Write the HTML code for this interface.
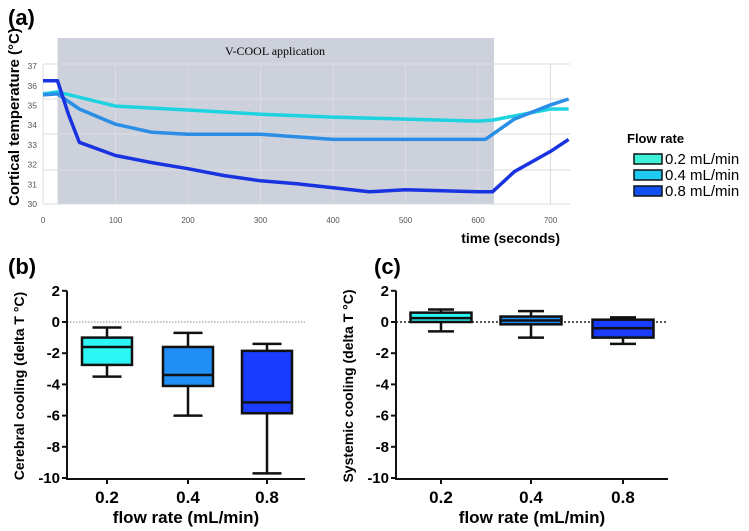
<!DOCTYPE html>
<html><head><meta charset="utf-8"><style>
html,body{margin:0;padding:0;background:#fff;width:749px;height:531px;overflow:hidden}
svg{display:block;font-family:"Liberation Sans",sans-serif}
</style></head><body>
<svg id="fig" width="749" height="531" viewBox="0 0 749 531" xmlns="http://www.w3.org/2000/svg">
<text x="8" y="25" font-size="22" font-weight="bold">(a)</text>
<text x="8" y="274" font-size="22" font-weight="bold">(b)</text>
<text x="374" y="274" font-size="22" font-weight="bold">(c)</text>
<g id="pa"></g>
<g id="pb"></g>
<g id="pc"></g>
</svg>
<script>
// ---- Panel (a) data ----
const timesA = [0,20,100,200,300,400,500,600,620,700,725];
const temp02 = [35.59,35.69,34.97,34.77,34.56,34.41,34.31,34.21,34.26,34.82,34.82];
const timesB = [0,20,50,100,150,200,300,400,500,610,650,700,725];
const temp04 = [35.54,35.59,34.82,34.05,33.64,33.54,33.54,33.28,33.28,33.28,34.31,35.03,35.33];
const timesC = [0,20,35,50,100,150,200,250,300,350,400,450,500,600,620,650,700,725];
const temp08 = [36.26,36.26,34.56,33.13,32.46,32.10,31.79,31.44,31.18,31.03,30.82,30.62,30.72,30.62,30.62,31.64,32.67,33.28];
const xTicksA = [0,100,200,300,400,500,600,700];
const yTicksA = [30,31,32,33,34,35,36,37];
const coolStart = 20, coolEnd = 622;
const legendLabels = ["0.2 mL/min","0.4 mL/min","0.8 mL/min"];
// ---- Panel (b)/(c) data ----
const boxCats = ["0.2","0.4","0.8"];
const cerebralMax = [-0.35,-0.7,-1.4];
const cerebralQ3 = [-1.0,-1.6,-1.85];
const cerebralMed = [-1.6,-3.4,-5.15];
const cerebralQ1 = [-2.75,-4.1,-5.85];
const cerebralMin = [-3.5,-6.0,-9.7];
const systemicMax = [0.8,0.7,0.3];
const systemicQ3 = [0.6,0.35,0.15];
const systemicMed = [0.25,0.1,-0.4];
const systemicQ1 = [0.0,-0.15,-1.0];
const systemicMin = [-0.6,-1.0,-1.4];
const yTicksBox = [2,0,-2,-4,-6,-8,-10];

const NS="http://www.w3.org/2000/svg";
function mk(p,tag,a,txt){const e=document.createElementNS(NS,tag);for(const k in a)e.setAttribute(k,a[k]);if(txt!==undefined)e.textContent=txt;p.appendChild(e);return e;}

// Panel a
const pa=document.getElementById('pa');
const xA=t=>43+t*0.725, yA=T=>204-(T-30)*19.7;
let e=mk(pa,'rect',{x:xA(coolStart),y:38,width:xA(coolEnd)-xA(coolStart),height:166,fill:'#cdd1dc'});

[64,99,134,170,204].forEach(gy=>{const g=mk(pa,'line',{x1:43,x2:570,y1:gy,y2:gy,stroke:'#dcdde2','stroke-width':1});
});
xTicksA.forEach(t=>{const g=mk(pa,'line',{x1:xA(t),x2:xA(t),y1:64,y2:204,stroke:'#dadce2','stroke-width':1});

const l=mk(pa,'text',{x:xA(t),y:223,'font-size':8,fill:'#555','text-anchor':'middle'},String(t));
});
yTicksA.forEach(T=>{const l=mk(pa,'text',{x:37,y:yA(T)+3,'font-size':8.5,fill:'#555','text-anchor':'end'},String(T));
});
e=mk(pa,'text',{x:xA(320),y:55,'font-size':12,'font-family':'Liberation Serif,serif','text-anchor':'middle'},'V-COOL application');

const series=[[timesA,temp02,'#1ed2e0'],[timesB,temp04,'#2a8de6'],[timesC,temp08,'#1a33e0']];
series.forEach((s,i)=>{const pts=s[0].map((t,j)=>xA(t).toFixed(1)+','+yA(s[1][j]).toFixed(1)).join(' ');
const l=mk(pa,'polyline',{points:pts,fill:'none',stroke:s[2],'stroke-width':3.5,'stroke-linejoin':'round'});
});
e=mk(pa,'text',{x:560,y:243,'font-size':14,'font-weight':'bold','text-anchor':'end'},'time (seconds)');

e=mk(pa,'text',{x:0,y:0,'font-size':15,'font-weight':'bold','text-anchor':'middle',transform:'translate(19,117) rotate(-90)'},'Cortical temperature (°C)');

e=mk(pa,'text',{x:627,y:143,'font-size':13,'font-weight':'bold'},'Flow rate');

['#3ff0d8','#1ec8f0','#1050f0'].forEach((c,i)=>{
const r=mk(pa,'rect',{x:634,y:154+i*16,width:28,height:10,fill:c,stroke:'#111','stroke-width':1.5});

const t=mk(pa,'text',{x:665,y:164+i*16,'font-size':15},legendLabels[i]);
});

// Box panels
function boxPanel(g,x0,x1,catX,bw,cap,mx,q3,md,q1,mn,title,zeroStyle){
const y=v=>322-v*15.6;
const cols=['#2cf7f5','#1f8ff5','#1a3cff'];
let z=mk(g,'line',Object.assign({x1:x0,x2:x1,y1:y(0),y2:y(0)},zeroStyle));

catX.forEach((cx,i)=>{
let w=mk(g,'line',{x1:cx,x2:cx,y1:y(mx[i]),y2:y(mn[i]),stroke:'#111','stroke-width':2.5});

[mx[i],mn[i]].forEach(v=>{const c=mk(g,'line',{x1:cx-cap/2,x2:cx+cap/2,y1:y(v),y2:y(v),stroke:'#111','stroke-width':2.5});
});
const b=mk(g,'rect',{x:cx-bw/2,y:y(q3[i]),width:bw,height:y(q1[i])-y(q3[i]),fill:cols[i],stroke:'#111','stroke-width':2.5});

const m=mk(g,'line',{x1:cx-bw/2,x2:cx+bw/2,y1:y(md[i]),y2:y(md[i]),stroke:'#111','stroke-width':2.5});

const l=mk(g,'text',{x:cx,y:503,'font-size':17,'font-weight':'bold','text-anchor':'middle'},boxCats[i]);

const tk=mk(g,'line',{x1:cx,x2:cx,y1:479,y2:484,stroke:'#111','stroke-width':2});
});
const ax=mk(g,'path',{d:`M${x0} ${y(2)}V479H${x1}`,fill:'none',stroke:'#111','stroke-width':2});

yTicksBox.forEach(v=>{const t=mk(g,'line',{x1:x0-5,x2:x0,y1:y(v),y2:y(v),stroke:'#111','stroke-width':2});

const l=mk(g,'text',{x:x0-7,y:y(v)+5,'font-size':15,'font-weight':'bold','text-anchor':'end'},String(v));
});
const xt=mk(g,'text',{x:(x0+x1)/2,y:523,'font-size':17,'font-weight':'bold','text-anchor':'middle'},'flow rate (mL/min)');

const yt=mk(g,'text',{x:0,y:0,'font-size':14,'font-weight':'bold','text-anchor':'middle',transform:`translate(${x0-43},386) rotate(-90)`},title);
}
boxPanel(document.getElementById('pb'),67,305,[107,188,267],50,29,cerebralMax,cerebralQ3,cerebralMed,cerebralQ1,cerebralMin,'Cerebral cooling (delta T °C)',{stroke:'#888','stroke-width':1,'stroke-dasharray':'1.5,1.5'});
boxPanel(document.getElementById('pc'),396,668,[441,531,623],61,26,systemicMax,systemicQ3,systemicMed,systemicQ1,systemicMin,'Systemic cooling (delta T °C)',{stroke:'#222','stroke-width':1.5,'stroke-dasharray':'2,2'});
</script>
</body></html>
